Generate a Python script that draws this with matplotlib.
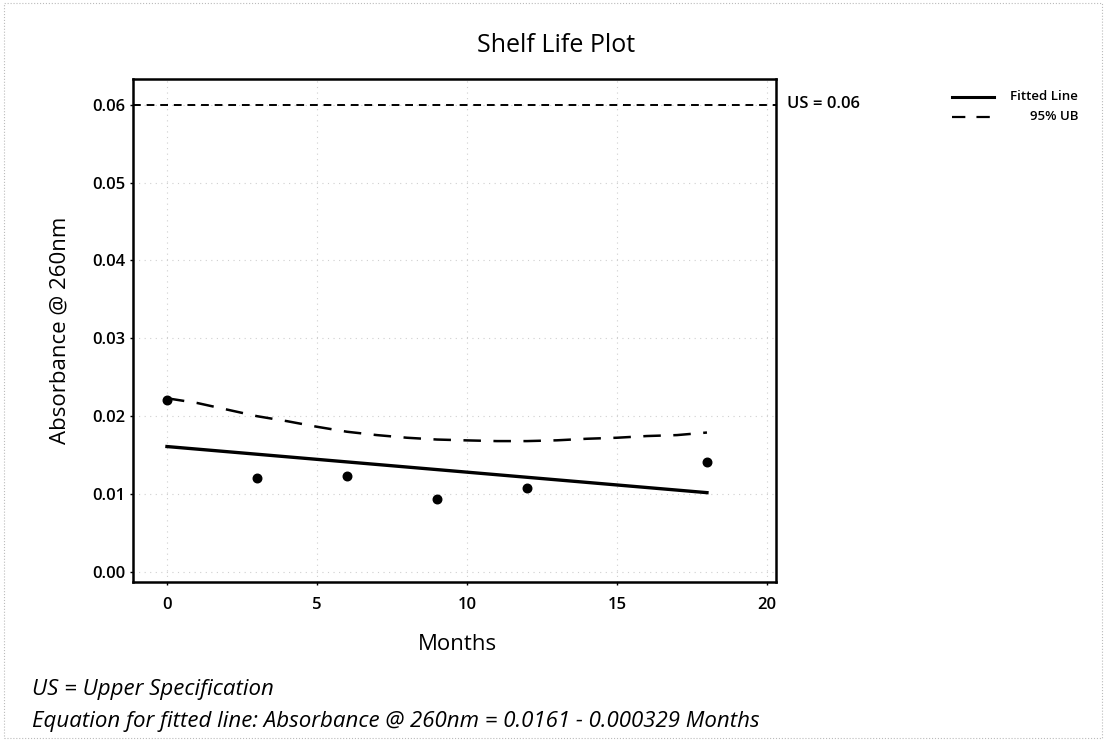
import numpy as np
import matplotlib
matplotlib.use("Agg")
import matplotlib.pyplot as plt
from matplotlib.lines import Line2D
from matplotlib.patches import Rectangle

plt.rcParams["font.family"] = ["Open Sans", "DejaVu Sans"]

# Observed data
months = [0, 3, 6, 9, 12, 18]
absorbance = [0.0221, 0.0121, 0.0123, 0.0094, 0.0108, 0.0141]

# Fitted line (from equation shown on chart)
intercept = 0.0161
slope = -0.000329
fit_months = [0, 18]

# 95% upper bound
ub_months = [0, 1, 2, 3, 4, 5, 6, 7, 8, 9, 10, 11, 12, 13, 14, 15, 16, 17, 18]
ub_values = [0.0223, 0.0217, 0.02085, 0.0200, 0.01936, 0.01864, 0.0180,
             0.01757, 0.01723, 0.0170, 0.01689, 0.0168, 0.0168, 0.0169,
             0.0171, 0.01723, 0.01745, 0.01757, 0.0179]

upper_spec = 0.06
x_ticks = [0, 5, 10, 15, 20]
y_ticks = [0.00, 0.01, 0.02, 0.03, 0.04, 0.05, 0.06]

fig = plt.figure(figsize=(11.06, 7.42), dpi=100)
ax = fig.add_axes([0.1203, 0.2156, 0.5813, 0.6779])

# grid
for xt in x_ticks:
    ax.axvline(xt, color="#cfcfcf", lw=0.8, ls=(0, (1, 4)), zorder=0)
for yt in y_ticks:
    ax.axhline(yt, color="#cfcfcf", lw=0.8, ls=(0, (1, 4)), zorder=0)

# spec line
ax.axhline(upper_spec, color="black", lw=1.4, ls=(0, (4, 3)), zorder=2)

# fitted line
fit_y = [intercept + slope * m for m in fit_months]
ax.plot(fit_months, fit_y, color="black", lw=2.4, zorder=3)

# upper bound
ax.plot(ub_months, ub_values, color="black", lw=1.8, ls=(0, (7, 5)), zorder=3)

# points
ax.scatter(months, absorbance, s=38, color="black", zorder=4)

ax.set_xlim(-1.13, 20.3)
ax.set_ylim(-0.0013, 0.0633)
ax.set_xticks(x_ticks)
ax.set_yticks(y_ticks)
ax.set_xticklabels([str(t) for t in x_ticks], fontsize=12, fontweight="semibold")
ax.set_yticklabels([f"{t:.2f}" for t in y_ticks], fontsize=12, fontweight="semibold")
ax.tick_params(direction="out", length=2.5, width=1, pad=3)
ax.tick_params(axis="x", pad=8)
for sp in ax.spines.values():
    sp.set_linewidth(1.8)

# text in pixels -> figure fraction
W, H = 1106, 742
def fx(px):
    return px / W
def fy(py):
    return 1 - py / H

fig.text(fx(556), fy(46), "Shelf Life Plot", fontsize=18, ha="center", va="center")
fig.text(fx(457), fy(645), "Months", fontsize=16, ha="center", va="center")
fig.text(fx(60), fy(330), "Absorbance @ 260nm", fontsize=16, rotation=90,
         ha="center", va="center")
fig.text(fx(787), fy(104), "US = 0.06", fontsize=12, fontweight="semibold",
         ha="left", va="center")

# legend
fig.add_artist(Line2D([fx(952), fx(994)], [fy(97), fy(97)], color="black", lw=2.2))
fig.add_artist(Line2D([fx(952), fx(994)], [fy(117), fy(117)], color="black", lw=1.6,
                      ls=(0, (6, 5))))
fig.text(fx(1078), fy(97), "Fitted Line", fontsize=9.5, fontweight="semibold",
         ha="right", va="center")
fig.text(fx(1078), fy(117), "95% UB", fontsize=9.5, fontweight="semibold",
         ha="right", va="center")

# footnotes
fig.text(fx(32), fy(690), "US = Upper Specification", fontsize=16, style="italic",
         ha="left", va="center")
fig.text(fx(32), fy(722),
         "Equation for fitted line: Absorbance @ 260nm = 0.0161 - 0.000329 Months",
         fontsize=16, style="italic", ha="left", va="center")

# faint page border
fig.add_artist(Rectangle((fx(4), fy(738)), fx(1098), fy(3) - fy(738),
                         transform=fig.transFigure, fill=False, ec="#bbbbbb",
                         lw=0.8, ls=":"))

fig.savefig("out.png", dpi=100)
